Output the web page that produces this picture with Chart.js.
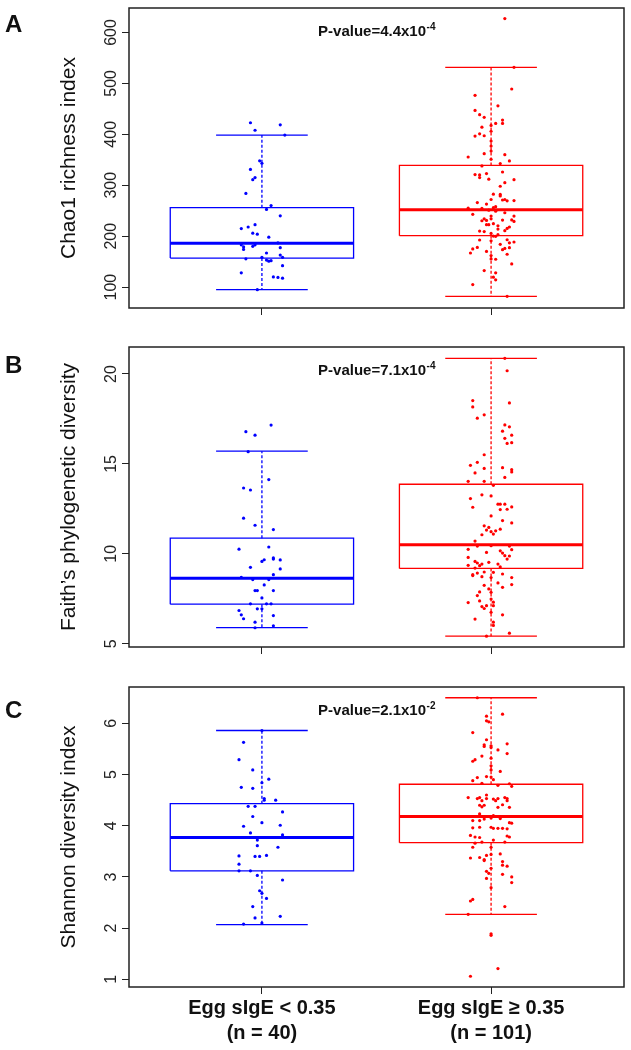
<!DOCTYPE html>
<html>
<head>
<meta charset="utf-8">
<script src="https://cdn.jsdelivr.net/npm/chart.js@4/dist/chart.umd.min.js"></script>
<style>
  body { margin: 0; background: #fff; }
  #wrap { position: relative; width: 631px; height: 1050px; }
  .panel { position: absolute; left: 0; width: 631px; }
</style>
</head>
<body>
<div id="wrap">
  <div class="panel" style="top:0px"><canvas id="chartA" width="631" height="330"></canvas></div>
  <div class="panel" style="top:339px"><canvas id="chartB" width="631" height="330"></canvas></div>
  <div class="panel" style="top:679px"><canvas id="chartC" width="631" height="371"></canvas></div>
</div>
<script>
// groups on the x axis
const groupPos = [1, 2];
const groupLabels = [['Egg sIgE < 0.35', '(n = 40)'], ['Egg sIgE \u2265 0.35', '(n = 101)']];
const groupColors = ['#0000ff', '#ff0000'];

// p-values printed in each panel
const pMantissa = ['4.4', '7.1', '2.1'];
const pExponent = ['-4', '-4', '-2'];

// box stats: [lower whisker, Q1, median, Q3, upper whisker]
const chaoStats = [[95, 157, 186, 256, 398.5], [82, 201, 252, 339, 531.5]];
const faithStats = [[5.9, 7.2, 8.64, 10.87, 15.71], [5.42, 9.19, 10.5, 13.87, 20.87]];
const shannonStats = [[2.07, 3.12, 3.77, 4.43, 5.86], [2.27, 3.67, 4.18, 4.81, 6.5]];

// y ticks and axis ranges
const chaoTicks = [100, 200, 300, 400, 500, 600];
const faithTicks = [5, 10, 15, 20];
const shannonTicks = [1, 2, 3, 4, 5, 6];
const chaoRange = [59, 648];
const faithRange = [4.82, 21.5];
const shannonRange = [0.85, 6.71];

// A: Chao1, sIgE < 0.35
const chaoLowVals = [422.7,418.7,408,398.5,348,343,331,315,311,284,260,252.5,240,222.5,218,215,206,204,198,187,183,179,174,183,180,177.5,155.5,167,158.5,163,158.5,153,151,152,142,128,120,119,117.5,95];
const chaoLowJit = [-0.05,0.08,-0.03,0.1,-0.01,0,-0.05,-0.03,-0.04,-0.07,0.04,0.02,0.08,-0.03,-0.06,-0.09,-0.04,-0.02,0.03,0.07,-0.09,-0.08,-0.08,-0.03,-0.04,0.08,-0.07,0.02,0,0.08,0.09,0.02,0.03,0.04,0.09,-0.09,0.05,0.07,0.09,-0.02];
// A: Chao1, sIgE >= 0.35
const chaoHighVals = [627.3,531.5,489,476.6,456,447,438.6,433.4,427.9,421.4,
  421.4,417.4,414,406,401,396.6,397.2,386.8,362,355.5,
  360,347.7,342.5,338,326,321,320.3,315,323,311,
  305,298,282,279,272,272,269.5,270,271,266,
  256,258,255,254.5,251,249,243,246,239.5,234,
  231,234,239.5,232,229,231.6,230.3,222.5,222.5,224.5,
  220.5,215.3,218,210.8,210,209,205.5,200.3,203,199.7,
  193,187,188.6,192.5,184,176,177.5,173.6,175,178,
  167,170,164.5,155.4,154.7,145.6,132.5,128,119.5,114.3,
  105,82,377,367,351,312,282.5,263,214,191,162];
const chaoHighJit = [0.06,0.1,0.09,-0.07,0.03,-0.07,-0.05,-0.03,0.05,0.05,
  0.02,0,-0.04,0,-0.05,-0.07,-0.03,0,-0.03,-0.1,
  0.06,0.08,0.04,-0.04,0.05,-0.07,-0.05,-0.05,-0.02,0.1,
  0.06,0.04,0.04,0.04,0,0.06,0.07,0.1,0.05,-0.06,
  0.01,0.02,-0.1,-0.04,-0.01,0.02,-0.08,0.06,0,-0.03,
  -0.02,0,0.1,0.09,0.1,0.05,-0.04,-0.02,-0.01,0.01,
  0.03,0.07,0.08,0.06,-0.05,-0.03,0,0.01,0.03,0.02,
  0.07,0.08,0.1,-0.05,0.04,0.06,0.08,0.05,-0.08,-0.06,
  -0.09,-0.02,0.07,0,0.02,0.09,-0.03,0.02,0.01,0.02,
  -0.08,0.07,0,0,0,-0.01,0.01,-0.02,0.03,0,0];

// B: Faith PD
const faithLowVals = [17.16,16.79,16.6,15.68,14.13,13.66,13.55,11.98,11.59,11.35,10.26,10.38,9.77,9.71,9.66,9.58,9.67,9.16,9.25,8.84,8.69,8.57,8.57,8.27,7.96,7.96,7.96,7.55,7.22,7.22,7.22,6.94,6.94,6.85,6.61,6.39,6.57,6.2,5.89,6.0];
const faithLowJit = [0.04,-0.07,-0.03,-0.06,0.03,-0.08,-0.05,-0.08,-0.03,0.05,-0.1,0.03,0.05,0.05,0.08,0,0.01,0.08,-0.05,0.05,-0.09,-0.04,0.03,0.01,-0.03,-0.02,0.05,0,-0.05,0.02,0.04,-0.02,0,-0.1,-0.09,-0.08,0.05,-0.03,-0.03,0.05];
const faithHighVals = [20.87,20.18,18.39,18.52,18.17,17.73,17.54,17.17,17.06,16.82,
  16.6,16.42,16.18,16.14,15.51,14.92,15.09,14.5,14.75,14.79,
  14.68,14.55,14.25,14.03,14.03,13.81,13.07,13.28,12.59,12.76,
  12.76,12.76,12.46,12.48,12.61,11.72,11.85,11.37,11.28,11.56,
  11.47,11.23,11.1,11.32,11.06,10.71,10.45,10.25,10.43,10.08,
  10.17,10.04,9.9,10.43,10.23,9.88,9.71,9.8,9.58,9.49,
  9.43,9.34,9.36,9.53,9.43,9.27,9.21,8.79,8.84,8.93,
  8.99,8.73,8.97,8.68,8.88,8.38,8.14,8.25,8.68,8.29,
  7.88,7.68,7.38,7.29,7.07,6.96,7.12,7.86,7.49,7.12,
  6.75,6.61,6.37,6.2,6.02,5.59,5.42,13.22,12.11,8.05,7.31];
const faithHighJit = [0.06,0.07,0.08,-0.08,-0.08,-0.03,-0.06,0.06,0.08,0.05,
  0.09,0.06,0.09,0.07,-0.03,-0.09,-0.06,-0.07,-0.03,0.05,
  0.09,0.09,0.06,-0.1,-0.03,0.01,-0.09,-0.04,-0.08,0.03,
  0.04,0.06,0.04,0.07,0.09,0.09,0.05,0.04,0.02,-0.03,
  -0.01,0,0.01,-0.02,-0.04,-0.07,0,-0.1,-0.06,-0.02,
  0.04,0.05,0.06,0.08,0.09,0.08,0.07,-0.1,-0.07,-0.06,
  -0.04,-0.05,-0.1,-0.01,0.03,0.04,-0.07,-0.08,-0.08,-0.06,
  -0.03,-0.04,0.01,0,0.05,0.03,0.05,-0.03,0.09,0.09,
  -0.05,-0.06,-0.05,-0.1,-0.04,-0.03,-0.02,0,0,0.01,
  0,0.05,-0.07,0.01,0.01,0.08,-0.02,0,0,-0.01,0.01];

// C: Shannon
const shannonLowVals = [5.86,5.63,5.29,5.09,4.91,4.84,4.75,4.73,4.53,4.5,4.5,4.38,4.38,4.27,4.18,4.06,3.99,4.01,3.86,3.82,3.72,3.61,3.58,3.41,3.4,3.4,3.42,3.25,3.12,3.12,3.03,2.94,2.73,2.68,2.58,2.42,2.2,2.23,2.08,2.1];
const shannonLowJit = [0,-0.08,-0.1,-0.04,0.03,0,-0.09,-0.04,0.01,0.01,0.06,-0.06,-0.03,0.09,-0.04,0,-0.08,0.08,-0.05,0.09,-0.02,-0.02,0.07,-0.1,-0.03,-0.01,0.02,-0.1,-0.1,-0.05,-0.02,0.09,-0.01,0,0.02,-0.04,-0.03,0.08,-0.08,0];
const shannonHighVals = [6.5,6.18,6.14,6.05,6.03,5.82,5.68,5.6,5.58,5.55,
  5.56,5.53,5.48,5.41,5.36,5.26,5.29,5.17,5.06,4.96,
  4.94,4.95,4.9,4.88,4.79,4.82,4.77,4.83,4.55,4.53,
  4.55,4.49,4.53,4.52,4.49,4.53,4.53,4.49,4.55,4.6,
  4.4,4.4,4.37,4.41,4.36,4.36,4.23,4.2,4.1,4.1,
  4.13,4.15,4.14,4.06,4.05,3.96,3.97,3.97,3.95,3.95,
  3.95,3.94,3.81,3.78,3.77,3.72,3.68,3.8,3.78,3.66,
  3.58,3.68,3.58,3.38,3.42,3.32,3.34,3.45,3.3,3.23,
  3.21,3.37,3.11,3.07,3.17,2.97,3.05,3.0,2.89,2.56,
  2.53,2.42,2.27,1.89,1.86,1.21,1.06,5.32,5.09,3.44,2.79];
const shannonHighJit = [-0.06,0.05,-0.02,-0.02,-0.01,-0.08,-0.02,0.07,-0.03,-0.03,
  0,0,0.03,0.07,-0.04,-0.08,-0.07,0,0.04,-0.02,
  -0.06,0,0.01,-0.08,0.03,0.08,0.09,-0.04,-0.1,-0.06,
  -0.05,-0.04,-0.02,0.01,0.02,0.03,0.07,0.07,0.06,-0.02,
  -0.05,-0.03,-0.04,0.05,0.03,0.08,-0.05,0.01,-0.08,-0.05,
  -0.03,0,0.04,0.08,0.09,-0.08,-0.05,0,0.01,0.03,
  0.05,0.07,-0.09,-0.07,-0.05,0.01,0.06,0.07,0.08,-0.07,
  -0.08,-0.04,0,-0.05,-0.02,-0.03,-0.03,0.04,0.05,0.05,
  0.07,-0.09,-0.02,-0.01,0,-0.02,0.05,0.09,0.09,-0.08,
  -0.09,0.06,-0.1,0,0,0.03,-0.09,0,0,0,0];

const FONT = '"Liberation Sans", Arial, Helvetica, sans-serif';
const BOX_HALF = 0.4;   // boxwex 0.8
const CAP_HALF = 0.2;   // staple width

// frame, rotated y tick labels, p-value and panel letter
const panelDecor = {
  id: 'panelDecor',
  afterDraw(chart, args, opts) {
    const ctx = chart.ctx;
    const area = chart.chartArea;
    const xs = chart.scales.x, ys = chart.scales.y;
    ctx.save();
    ctx.strokeStyle = '#222';
    ctx.lineWidth = 1.5;
    ctx.strokeRect(area.left, area.top, area.right - area.left, area.bottom - area.top);

    ctx.fillStyle = '#222';
    ctx.font = '16px ' + FONT;
    ctx.textAlign = 'center';
    ctx.textBaseline = 'middle';
    opts.ticks.forEach(function(v) {
      ctx.save();
      ctx.translate(area.left - 17, ys.getPixelForValue(v));
      ctx.rotate(-Math.PI / 2);
      ctx.fillText(String(v), 0, 0);
      ctx.restore();
    });

    // P-value=...x10^exp centred at x = 1.5
    const base = 'P-value=' + opts.mant + 'x10';
    ctx.font = 'bold 15px ' + FONT;
    const w1 = ctx.measureText(base).width;
    ctx.font = 'bold 10px ' + FONT;
    const w2 = ctx.measureText(opts.exp).width;
    const left = xs.getPixelForValue(1.5) - (w1 + w2) / 2;
    const ty = area.top + 24;
    ctx.textAlign = 'left';
    ctx.fillStyle = '#111';
    ctx.font = 'bold 15px ' + FONT;
    ctx.fillText(base, left, ty);
    ctx.font = 'bold 10px ' + FONT;
    ctx.fillText(opts.exp, left + w1 + 0.5, ty - 5);

    ctx.font = 'bold 24px ' + FONT;
    ctx.textBaseline = 'alphabetic';
    ctx.fillText(opts.letter, 5, opts.letterY);
    ctx.restore();
  }
};

function seg(points, color, width, dash) {
  return {
    data: points.map(p => ({x: p[0], y: p[1]})),
    showLine: true,
    borderColor: color,
    borderWidth: width,
    borderDash: dash || [],
    pointRadius: 0,
    fill: false,
    order: 2
  };
}

function boxSets(g, st, color) {
  const lo = st[0], q1 = st[1], med = st[2], q3 = st[3], hi = st[4];
  return [
    seg([[g - BOX_HALF, q1], [g + BOX_HALF, q1], [g + BOX_HALF, q3], [g - BOX_HALF, q3], [g - BOX_HALF, q1]], color, 1.3),
    seg([[g - BOX_HALF, med], [g + BOX_HALF, med]], color, 3),
    seg([[g, q3], [g, hi]], color, 1.3, [3, 2]),
    seg([[g, q1], [g, lo]], color, 1.3, [3, 2]),
    seg([[g - CAP_HALF, hi], [g + CAP_HALF, hi]], color, 1.3),
    seg([[g - CAP_HALF, lo], [g + CAP_HALF, lo]], color, 1.3)
  ];
}

function pointSet(g, vals, jit, color) {
  return {
    data: vals.map((v, i) => ({x: g + jit[i], y: v})),
    pointRadius: 1.6,
    pointBackgroundColor: color,
    pointBorderWidth: 0,
    showLine: false,
    order: 1
  };
}

function makePanel(id, p) {
  const datasets = [
    pointSet(groupPos[0], p.low, p.lowJit, groupColors[0]),
    pointSet(groupPos[1], p.high, p.highJit, groupColors[1])
  ].concat(boxSets(groupPos[0], p.stats[0], groupColors[0]), boxSets(groupPos[1], p.stats[1], groupColors[1]));

  const tickGrid = { display: true, drawOnChartArea: false, drawTicks: true, tickLength: 7, color: '#222', lineWidth: 1 };

  new Chart(document.getElementById(id).getContext('2d'), {
    type: 'scatter',
    data: { datasets: datasets },
    plugins: [panelDecor],
    options: {
      responsive: false,
      animation: false,
      events: [],
      layout: { padding: { top: 8, right: 7, left: 0, bottom: 0 } },
      plugins: {
        legend: { display: false },
        tooltip: { enabled: false },
        panelDecor: { ticks: p.ticks, mant: p.mant, exp: p.exp, letter: p.letter, letterY: p.letterY }
      },
      scales: {
        x: {
          type: 'linear',
          min: 0.42,
          max: 2.58,
          afterBuildTicks: s => { s.ticks = groupPos.map(v => ({value: v})); },
          afterFit: s => { s.height = p.xAxisH; },
          grid: tickGrid,
          border: { display: false },
          ticks: {
            display: p.showLabels,
            autoSkip: false,
            maxRotation: 0,
            padding: 2,
            color: '#111',
            font: { family: FONT, size: 20, weight: 'bold', lineHeight: 1.25 },
            callback: (v, i) => groupLabels[i]
          }
        },
        y: {
          min: p.range[0],
          max: p.range[1],
          afterBuildTicks: s => { s.ticks = p.ticks.map(v => ({value: v})); },
          afterFit: s => { s.width = 129; },
          grid: tickGrid,
          border: { display: false },
          ticks: { display: false },
          title: {
            display: true,
            text: p.title,
            color: '#111',
            font: { family: FONT, size: 21 },
            padding: { top: 57, bottom: 0 }
          }
        }
      }
    }
  });
}

makePanel('chartA', {
  title: 'Chao1 richness index', letter: 'A', letterY: 32,
  low: chaoLowVals, lowJit: chaoLowJit, high: chaoHighVals, highJit: chaoHighJit,
  stats: chaoStats, ticks: chaoTicks, range: chaoRange,
  mant: pMantissa[0], exp: pExponent[0], showLabels: false, xAxisH: 22
});
makePanel('chartB', {
  title: 'Faith\u2019s phylogenetic diversity', letter: 'B', letterY: 34,
  low: faithLowVals, lowJit: faithLowJit, high: faithHighVals, highJit: faithHighJit,
  stats: faithStats, ticks: faithTicks, range: faithRange,
  mant: pMantissa[1], exp: pExponent[1], showLabels: false, xAxisH: 22
});
makePanel('chartC', {
  title: 'Shannon diversity index', letter: 'C', letterY: 39,
  low: shannonLowVals, lowJit: shannonLowJit, high: shannonHighVals, highJit: shannonHighJit,
  stats: shannonStats, ticks: shannonTicks, range: shannonRange,
  mant: pMantissa[2], exp: pExponent[2], showLabels: true, xAxisH: 63
});
</script>
</body>
</html>
